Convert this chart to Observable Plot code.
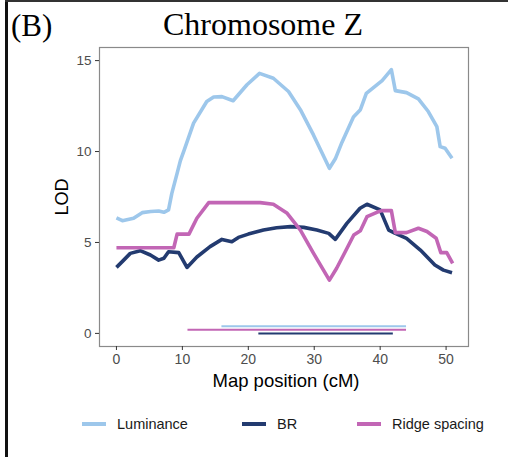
<!DOCTYPE html>
<html>
<head>
<meta charset="utf-8">
<script src="https://cdn.jsdelivr.net/npm/d3@7"></script>
<script src="https://cdn.jsdelivr.net/npm/@observablehq/plot@0.6"></script>
<style>
  html, body { margin: 0; padding: 0; background: #fff; }
  #wrap { position: relative; width: 508px; height: 457px; overflow: hidden; font-family: "Liberation Sans", Arial, sans-serif; }
  .abs { position: absolute; white-space: nowrap; }
</style>
</head>
<body>
<div id="wrap"></div>
<script>
// ---- data ----
const seriesNames = ["Luminance", "BR", "Ridge spacing"];
const seriesColors = ["#9DC7EB", "#233B70", "#C266B5"];

const lumX = [0.0, 0.9, 2.6, 3.9, 5.2, 6.4, 7.2, 7.9, 8.4, 9.2, 9.7, 10.3, 11.7, 13.7, 14.75, 16.0, 17.7, 19.8, 21.7, 23.8, 26.1, 27.9, 29.9, 32.3, 33.2, 34.2, 35.95, 37.0, 37.9, 40.3, 41.7, 42.3, 44.0, 45.8, 47.3, 48.6, 49.1, 49.85, 50.9];
const lumY = [6.35, 6.2, 6.33, 6.64, 6.7, 6.73, 6.66, 6.79, 7.7, 8.8, 9.5, 10.1, 11.56, 12.75, 13.0, 13.02, 12.79, 13.67, 14.3, 14.03, 13.3, 12.3, 10.9, 9.08, 9.6, 10.5, 11.9, 12.3, 13.2, 13.9, 14.5, 13.35, 13.24, 12.9, 12.2, 11.37, 10.27, 10.18, 9.63];

const brX = [0.0, 1.1, 2.1, 3.6, 5.15, 6.4, 7.2, 7.9, 9.45, 10.7, 12.2, 14.2, 16.0, 17.5, 18.5, 20.0, 22.3, 24.3, 26.4, 28.4, 30.4, 32.2, 33.2, 34.95, 36.95, 38.0, 40.0, 41.3, 42.3, 44.0, 46.1, 48.3, 49.6, 50.9];
const brY = [3.63, 4.03, 4.4, 4.55, 4.31, 4.03, 4.13, 4.49, 4.44, 3.63, 4.2, 4.77, 5.17, 5.04, 5.28, 5.46, 5.68, 5.81, 5.87, 5.83, 5.68, 5.5, 5.17, 6.05, 6.88, 7.1, 6.79, 5.68, 5.5, 5.23, 4.58, 3.76, 3.48, 3.34];

const ridgeX = [0.0, 8.7, 9.2, 11.0, 12.2, 14.0, 21.8, 23.8, 25.9, 27.9, 29.9, 32.3, 33.4, 34.7, 36.0, 37.0, 38.0, 39.5, 40.25, 41.7, 42.3, 44.0, 45.8, 47.1, 48.5, 49.2, 50.1, 51.0];
const ridgeY = [4.71, 4.71, 5.46, 5.46, 6.33, 7.19, 7.19, 7.1, 6.6, 5.68, 4.4, 2.93, 3.58, 4.49, 5.41, 5.65, 6.42, 6.66, 6.75, 6.75, 5.54, 5.54, 5.78, 5.6, 5.23, 4.44, 4.44, 3.85];

// support intervals (drawn near LOD 0)
const intervalSeries = ["Luminance", "Ridge spacing", "BR"];
const intervalStart = [16.0, 10.85, 21.6];
const intervalEnd = [44.0, 44.0, 42.0];
const intervalLevel = [0.4, 0.2, 0.0];

const xTicks = [0, 10, 20, 30, 40, 50];
const yTicks = [0, 5, 10, 15];

// ---- build tables ----
const lines = [
  ...lumX.map((x, i) => ({series: "Luminance", x, y: lumY[i]})),
  ...brX.map((x, i) => ({series: "BR", x, y: brY[i]})),
  ...ridgeX.map((x, i) => ({series: "Ridge spacing", x, y: ridgeY[i]}))
];
const intervals = intervalSeries.map((s, i) => ({series: s, x1: intervalStart[i], x2: intervalEnd[i], y: intervalLevel[i]}));

const W = 508, H = 400;
const plot = Plot.plot({
  width: W, height: H,
  marginLeft: 99, marginRight: 40, marginTop: 47, marginBottom: 54,
  style: {fontFamily: "'Liberation Sans', Arial, sans-serif", background: "transparent"},
  x: {domain: [-2.57, 53.4]},
  y: {domain: [-0.72, 15.72]},
  color: {domain: seriesNames, range: seriesColors},
  marks: [
    Plot.frame({stroke: "#8a8a8a", strokeWidth: 1.2}),
    Plot.ruleY(intervals, {y: "y", x1: "x1", x2: "x2", stroke: "series", strokeWidth: 2}),
    Plot.line(lines, {x: "x", y: "y", z: "series", stroke: "series", strokeWidth: 3.6, strokeLinejoin: "round", strokeLinecap: "butt"}),
    Plot.axisX({ticks: xTicks, tickSize: 4, tickPadding: 4, fontSize: 14, stroke: "#333", fill: "#4d4d4d", label: null}),
    Plot.axisY({ticks: yTicks, tickSize: 4, tickPadding: 4, fontSize: 13.5, stroke: "#333", fill: "#4d4d4d", label: null})
  ]
});
plot.style.position = "absolute";
plot.style.left = "0px";
plot.style.top = "0px";
const wrap = document.getElementById("wrap");
wrap.appendChild(plot);

function addText(txt, css) {
  const d = document.createElement("div");
  d.className = "abs";
  d.textContent = txt;
  Object.assign(d.style, css);
  wrap.appendChild(d);
  return d;
}

// figure frame (left and top black lines)
const fl = document.createElement("div");
Object.assign(fl.style, {position: "absolute", left: "5px", top: "0px", width: "3px", height: "457px", background: "#111"});
wrap.appendChild(fl);
const ft = document.createElement("div");
Object.assign(ft.style, {position: "absolute", left: "5px", top: "0px", width: "503px", height: "2px", background: "#333"});
wrap.appendChild(ft);

// title & panel tag
addText("(B)", {left: "11px", top: "10px", fontFamily: "'Liberation Serif', 'Times New Roman', serif", fontSize: "31px", lineHeight: "31px", color: "#000"});
addText("Chromosome Z", {left: "263px", top: "8px", transform: "translateX(-50%)", fontFamily: "'Liberation Serif', 'Times New Roman', serif", fontSize: "32px", lineHeight: "32px", color: "#000"});

// axis titles
addText("Map position (cM)", {left: "286px", top: "371px", transform: "translateX(-50%)", fontSize: "18.5px", lineHeight: "19px", color: "#000"});
addText("LOD", {left: "62px", top: "197px", transform: "translate(-50%,-50%) rotate(-90deg)", fontSize: "18px", lineHeight: "19px", color: "#000"});

// legend
const legKeyX = [82, 242, 357];
seriesNames.forEach((name, i) => {
  const k = document.createElement("div");
  Object.assign(k.style, {position: "absolute", left: legKeyX[i] + "px", top: "422px", width: "24px", height: "4px", background: seriesColors[i]});
  wrap.appendChild(k);
  addText(name, {left: (legKeyX[i] + 35) + "px", top: "416px", fontSize: "14.5px", lineHeight: "16px", color: "#1a1a1a"});
});
</script>
</body>
</html>
